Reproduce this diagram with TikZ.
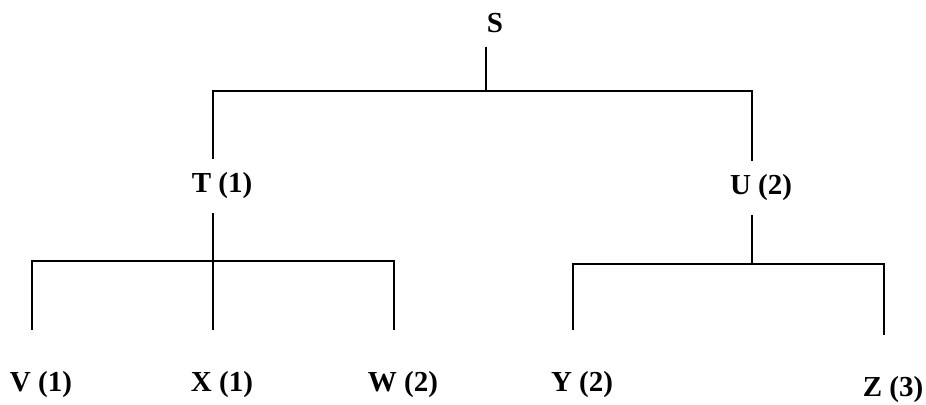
\documentclass[tikz,border=0pt]{standalone}
\usepackage{fontspec}
\setmainfont{Liberation Serif}

\begin{document}
\begin{tikzpicture}[x=0.5pt,y=-0.5pt,line width=1pt,
  every node/.style={inner sep=0pt,anchor=base,text height=10pt,text depth=3pt,
                     font=\fontsize{14.5}{17}\selectfont\bfseries,
                     execute at begin node=\hspace*{9pt}},
  lbl/.style={outer ysep=7pt},
  leaf/.style={outer ysep=21pt}]
  \useasboundingbox (0,0) rectangle (926,405);
  % tree nodes
  \node[lbl,outer ysep=4pt] (S) at (486,33) {S};
  \node[lbl] (T) at (213,193) {T (1)};
  \node[lbl] (U) at (752,195) {U (2)};
  \node[leaf] (V) at (32,392) {V (1)};
  \node[leaf] (X) at (213,392) {X (1)};
  \node[leaf] (W) at (394,392) {W (2)};
  \node[leaf] (Y) at (573,392) {Y (2)};
  \node[leaf] (Z) at (884,397) {Z (3)};
  % bar junctions
  \coordinate (Sj) at (486,91);
  \coordinate (Tj) at (213,261);
  \coordinate (Uj) at (752,264);
  \draw (S) -- (Sj);
  \draw (T) |- (Sj) -| (U);
  \draw (T) -- (X);
  \draw (V) |- (Tj) -| (W);
  \draw (U) -- (Uj);
  \draw (Y) |- (Uj) -| (Z);
\end{tikzpicture}
\end{document}
